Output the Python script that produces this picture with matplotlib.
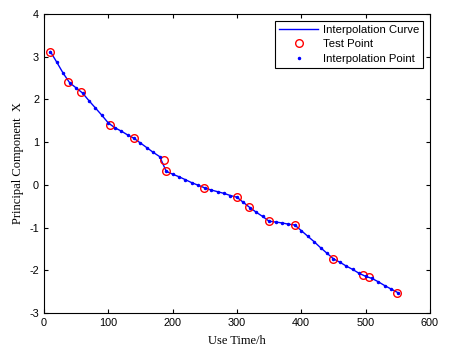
import numpy as np
import matplotlib
matplotlib.use('Agg')
import matplotlib.pyplot as plt

# test points
test_time = [10, 38, 58, 103, 140, 186, 190, 249, 300, 319, 350, 390, 450, 496, 506, 549]
test_pc = [3.12, 2.41, 2.18, 1.40, 1.09, 0.59, 0.32, -0.07, -0.29, -0.52, -0.85, -0.94,
           -1.73, -2.12, -2.16, -2.52]

# interpolation points (every 10 h)
interp_time = list(range(10, 551, 10))
interp_pc = [3.12, 2.87, 2.61, 2.39, 2.27, 2.15, 1.97, 1.80, 1.63, 1.45,
             1.34, 1.26, 1.17, 1.09, 0.98, 0.87, 0.76, 0.66, 0.32, 0.25,
             0.19, 0.12, 0.05, -0.01, -0.07, -0.12, -0.16, -0.20, -0.25, -0.29,
             -0.41, -0.53, -0.64, -0.74, -0.85, -0.87, -0.89, -0.92, -0.94, -1.07,
             -1.20, -1.33, -1.47, -1.60, -1.73, -1.81, -1.90, -1.98, -2.07, -2.14,
             -2.19, -2.27, -2.36, -2.44, -2.52]

plt.rcParams['font.family'] = 'Liberation Sans'
plt.rcParams['font.size'] = 8
plt.rcParams['axes.unicode_minus'] = False

fig = plt.figure(figsize=(4.53, 3.49), dpi=100)
ax = fig.add_axes([0.097, 0.103, 0.852, 0.857])

ax.plot(interp_time, interp_pc, '-', color='blue', lw=1.0, label='Interpolation Curve')
ax.plot(test_time, test_pc, 'o', mfc='none', mec='red', mew=1.0, ms=5.5, label='Test Point')
ax.plot(interp_time, interp_pc, '.', color='blue', ms=3, label='Interpolation Point')

ax.set_xlim(0, 600)
ax.set_ylim(-3, 4)
ax.set_xticks(np.arange(0, 601, 100))
ax.set_yticks(np.arange(-3, 5, 1))
ax.tick_params(direction='in', top=True, right=True, length=3, width=0.8, labelsize=7.8)
for s in ax.spines.values():
    s.set_linewidth(0.8)

ax.set_xlabel('Use Time/h', family='Liberation Serif', fontsize=9, labelpad=5)
ax.set_ylabel('Principal Component  X', family='Liberation Serif', fontsize=9, labelpad=4)

leg = ax.legend(loc='upper right', fancybox=False, edgecolor='black', framealpha=1,
                handlelength=3.4, borderpad=0.35, labelspacing=0.4, handletextpad=0.4,
                borderaxespad=0.6, fontsize=8.2)
leg.get_frame().set_linewidth(0.8)

fig.savefig('out.png', dpi=100)
